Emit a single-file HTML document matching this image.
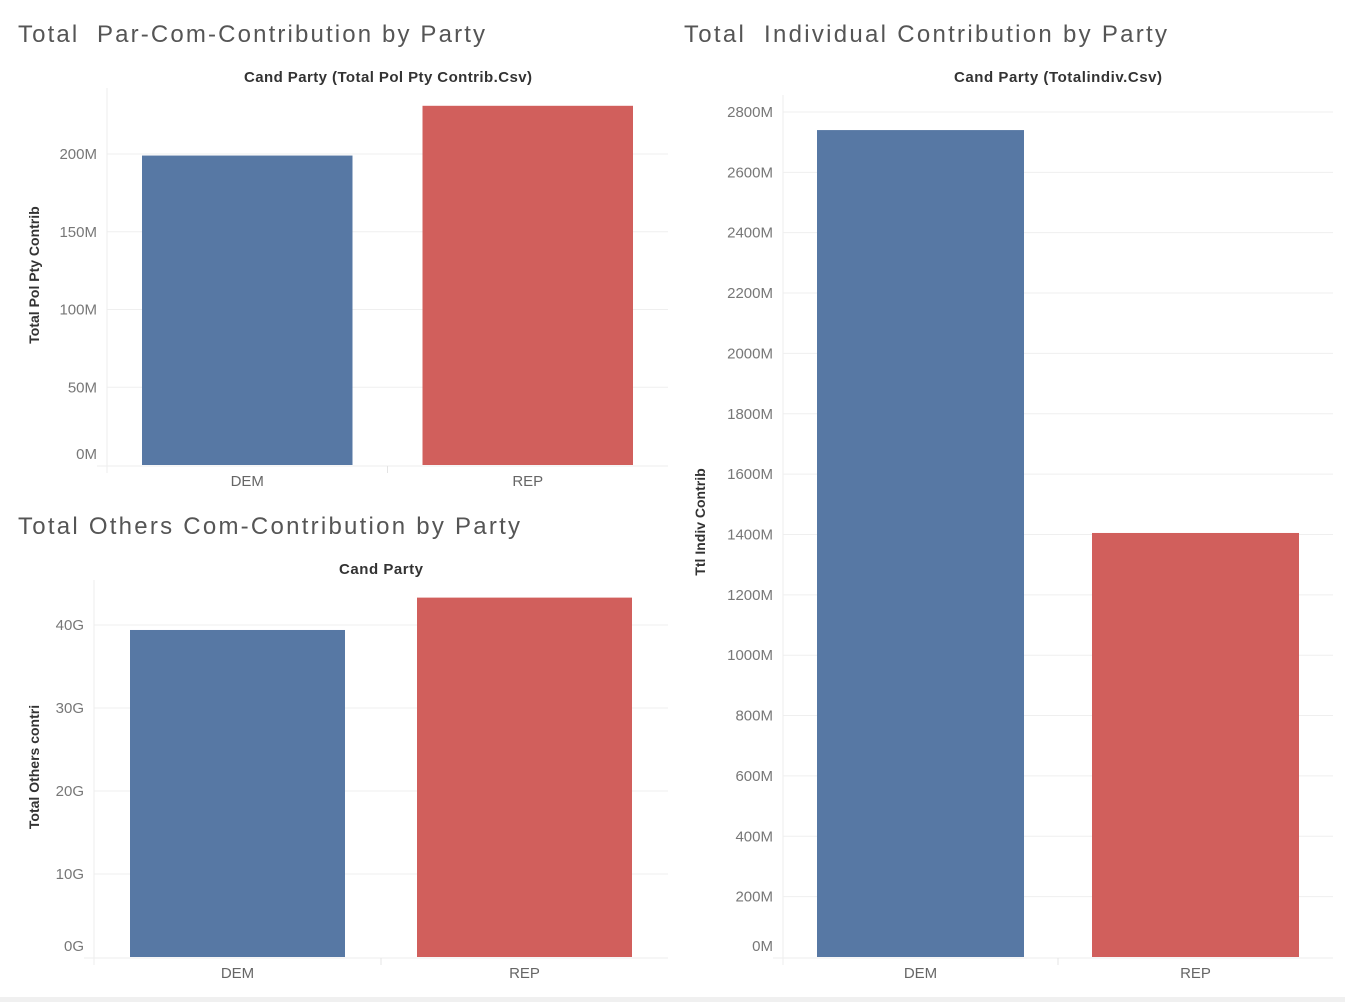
<!DOCTYPE html>
<html><head><meta charset="utf-8">
<style>
html,body{margin:0;padding:0;background:#fff;}
svg{display:block;font-family:"Liberation Sans",sans-serif;}
</style></head>
<body>
<svg id="root" width="1345" height="1002" viewBox="0 0 1345 1002">
<rect x="0" y="997" width="1345" height="5" fill="#f0f0f0"/>
<text x="18" y="42" font-size="24" fill="#555" textLength="467" lengthAdjust="spacing" xml:space="preserve">Total  Par-Com-Contribution by Party</text>
<text x="684" y="42" font-size="24" fill="#555" textLength="483" lengthAdjust="spacing" xml:space="preserve">Total  Individual Contribution by Party</text>
<text x="18" y="534" font-size="24" fill="#555" textLength="502" lengthAdjust="spacing">Total Others Com-Contribution by Party</text>
</svg>
<script>
const categories = ["DEM", "REP"];
const parValues = [199, 231];
const parTicks = [0, 50, 100, 150, 200];
const othersValues = [39.4, 43.3];
const othersTicks = [0, 10, 20, 30, 40];
const indivValues = [2740, 1405];
const indivTicks = [0, 200, 400, 600, 800, 1000, 1200, 1400, 1600, 1800, 2000, 2200, 2400, 2600, 2800];
const colors = ["#5778a4", "#d15f5c"];

const NS = "http://www.w3.org/2000/svg";
const root = document.getElementById('root');
function mk(tag, attrs, parent, text) {
  const e = document.createElementNS(NS, tag);
  for (const k in attrs) e.setAttribute(k, attrs[k]);
  if (text !== undefined) e.textContent = text;
  parent.appendChild(e);
  return e;
}

function drawChart(cfg) {
  const g = mk('g', {}, root);
  
  
  const y = v => cfg.base - v * cfg.pxPer;
  const bandW = (cfg.x1 - cfg.x0) / categories.length;
  const xBand = i => cfg.x0 + i * bandW;
  cfg.ticks.forEach(t => {
    const yy = y(t);
    if (t !== 0) {
      const gl = mk('line', {x1: cfg.x0, x2: cfg.x1, y1: yy, y2: yy, stroke: '#efefef', 'stroke-width': 1}, g);
      
      
    }
    const ly = t === 0 ? cfg.base - 6 : yy + 5;
    const tl = mk('text', {x: cfg.x0 - 10, y: ly, 'font-size': 15, fill: '#777', 'text-anchor': 'end'}, g, t + cfg.suffix);
    
    
  });
  const ya = mk('line', {x1: cfg.x0, x2: cfg.x0, y1: cfg.top, y2: cfg.base + 8, stroke: '#eee'}, g);
  
  
  const xa = mk('line', {x1: cfg.x0 - 10, x2: cfg.x1, y1: cfg.base + 1, y2: cfg.base + 1, stroke: '#eee'}, g);
  
  
  const sep = mk('line', {x1: xBand(1), x2: xBand(1), y1: cfg.base + 1, y2: cfg.base + 8, stroke: '#e4e4e4'}, g);
  
  
  cfg.values.forEach((v, i) => {
    const bx = xBand(i) + cfg.pad;
    const b = mk('rect', {x: bx, y: y(v), width: bandW - 2 * cfg.pad, height: cfg.base - y(v), fill: colors[i]}, g);
    
    
    const cl = mk('text', {x: xBand(i) + bandW / 2, y: cfg.base + 21, 'font-size': 15, fill: '#666', 'text-anchor': 'middle'}, g, categories[i]);
    
    
  });
  const sub = mk('text', {x: cfg.subX, y: cfg.subY, 'font-size': 15, 'font-weight': 'bold', fill: '#333', 'text-anchor': 'middle', textLength: cfg.subW, lengthAdjust: 'spacing'}, g, cfg.sub);
  
  
  const yt = mk('text', {x: 0, y: 0, 'font-size': 14, 'font-weight': 'bold', fill: '#333', 'text-anchor': 'middle',
    transform: 'translate(' + cfg.ytX + ',' + cfg.ytY + ') rotate(-90)'}, g, cfg.ytitle);
  
  
}

drawChart({name: 'par-com-chart', values: parValues, ticks: parTicks, suffix: 'M', x0: 107, x1: 668, base: 465, top: 88, pxPer: 1.555, pad: 35,
  sub: 'Cand Party (Total Pol Pty Contrib.Csv)', subX: 388, subY: 82, subW: 288, ytitle: 'Total Pol Pty Contrib', ytX: 39, ytY: 275});
drawChart({name: 'others-chart', values: othersValues, ticks: othersTicks, suffix: 'G', x0: 94, x1: 668, base: 957, top: 580, pxPer: 8.3, pad: 36,
  sub: 'Cand Party', subX: 381, subY: 574, subW: 84, ytitle: 'Total Others contri', ytX: 39, ytY: 767});
drawChart({name: 'individual-chart', values: indivValues, ticks: indivTicks, suffix: 'M', x0: 783, x1: 1333, base: 957, top: 95, pxPer: 0.3018, pad: 34,
  sub: 'Cand Party (Totalindiv.Csv)', subX: 1058, subY: 82, subW: 208, ytitle: 'Ttl Indiv Contrib', ytX: 705, ytY: 522});
</script>
</body></html>
